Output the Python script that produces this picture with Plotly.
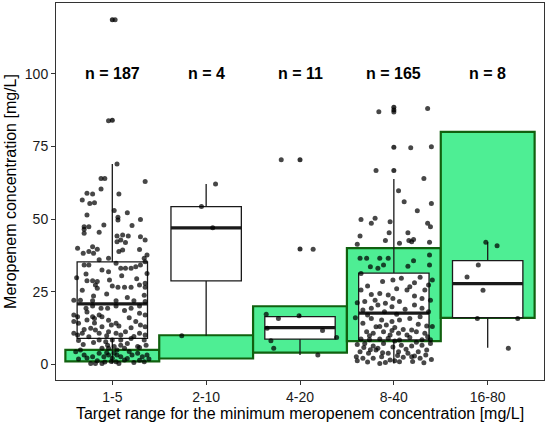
import plotly.graph_objects as go

# target ranges (green bands) and box statistics
categories = ["1-5", "2-10", "4-20", "8-40", "16-80"]
target_low = [1, 2, 4, 8, 16]
target_high = [5, 10, 20, 40, 80]
n_labels = ["n = 187", "n = 4", "n = 11", "n = 165", "n = 8"]

box_q1 = [8.9, 28.7, 8.7, 8.4, 16.1]
box_median = [20.8, 47.0, 12.6, 17.6, 27.8]
box_q3 = [35.3, 54.3, 16.4, 31.4, 35.7]
box_low = [0.3, 9.8, 3.2, 0.3, 5.7]
box_high = [69.0, 62.1, 17.2, 63.8, 42.0]

# boxplot outliers (drawn at the category centre)
outliers = {
    0: [118.6, 84.0],
    2: [70.4, 39.7],
    3: [88.5, 87.6, 74.7, 66.7],
}

# jittered observations: (horizontal jitter, concentration)
g1_points = [
    (0.03, 118.6), (-0.04, 83.9), (0.05, 69.0), (0.35, 62.9), (-0.12, 64.0), (-0.08, 64.0),
    (0.07, 58.6), (-0.27, 58.9), (-0.21, 58.6), (-0.32, 56.6), (-0.24, 55.4), (-0.19, 55.6),
    (-0.12, 60.4), (0.16, 52.2), (-0.27, 51.4), (0.06, 50.6), (0.06, 49.7), (0.30, 49.9),
    (-0.09, 48.0), (-0.30, 47.4), (-0.25, 47.4), (-0.30, 46.5), (-0.30, 45.1),
    (0.05, 44.2), (0.11, 44.5), (0.17, 44.2), (0.09, 42.8), (0.14, 41.9), (0.05, 42.2),
    (0.30, 43.9), (0.35, 42.8), (-0.21, 40.5), (-0.16, 39.6), (-0.25, 38.8), (-0.31, 38.2),
    (-0.20, 38.2), (0.07, 38.8), (0.11, 39.4), (0.37, 37.6), (0.34, 36.5), (-0.04, 36.5),
    (-0.30, 34.2), (-0.25, 34.2), (0.09, 33.1), (0.14, 33.1), (0.20, 33.1), (0.25, 33.6),
    (0.30, 34.2), (0.35, 35.3), (-0.04, 31.9), (0.37, 31.3), (-0.28, 31.1), (-0.27, 28.8),
    (-0.21, 28.8), (-0.16, 28.5), (-0.03, 29.0), (0.00, 27.0), (0.06, 26.5), (0.13, 26.5),
    (0.20, 26.5), (0.29, 27.3), (0.35, 27.9), (-0.18, 27.3), (-0.16, 26.2), (0.35, 26.5),
    (-0.06, 24.2), (-0.41, 22.1), (-0.34, 22.1), (-0.21, 21.9), (0.04, 21.9), (0.23, 21.9),
    (0.35, 21.6), (-0.28, 19.3), (-0.21, 20.1), (-0.12, 19.3), (-0.05, 19.3), (0.04, 20.1),
    (0.20, 19.3), (0.29, 20.1), (-0.41, 17.0), (-0.37, 16.4), (-0.21, 16.4), (-0.14, 17.0),
    (0.29, 17.6), (0.35, 17.0), (-0.41, 14.7), (-0.36, 14.1), (-0.27, 15.3), (-0.19, 15.8),
    (-0.11, 16.4), (0.04, 14.1), (0.07, 13.2), (0.25, 14.7), (0.30, 13.5), (0.35, 12.9),
    (-0.23, 12.4), (-0.18, 11.8), (-0.11, 12.9), (-0.04, 11.2), (0.14, 11.2),
    (-0.41, 10.7), (-0.37, 10.1), (-0.32, 10.7), (-0.14, 10.7), (0.04, 10.7), (0.09, 10.1),
    (0.29, 10.7), (0.35, 10.1), (-0.14, 8.4), (-0.07, 7.8), (0.00, 8.4), (0.09, 8.4),
    (0.20, 8.9), (0.34, 8.4), (-0.05, 6.6), (0.02, 6.1), (0.09, 6.6), (0.27, 6.1), (0.36, 6.6),
    (-0.11, 5.5), (-0.04, 5.5), (0.05, 4.9), (0.13, 5.5), (-0.34, 4.9),
    (-0.39, 4.3), (-0.30, 3.2), (-0.21, 2.6), (-0.14, 3.8), (-0.09, 2.6), (-0.04, 3.2),
    (0.00, 2.1), (0.05, 3.2), (0.09, 2.6), (0.13, 1.5), (0.21, 3.2), (0.27, 3.8),
    (0.32, 2.6), (0.37, 3.2), (-0.23, 0.3), (-0.18, 0.3), (-0.11, 0.3), (0.04, 0.9),
    (0.07, 0.3), (0.34, 0.9), (-0.36, 1.8), (-0.27, 2.2), (-0.16, 1.2), (-0.08, 0.8),
    (-0.01, 1.0), (0.16, 2.0), (0.23, 0.6), (0.29, 1.4), (0.39, 1.8), (-0.06, 4.0),
    (0.02, 3.8), (0.18, 4.4), (-0.31, 6.8), (-0.20, 7.5), (0.16, 7.2), (0.29, 5.8),
    (-0.36, 8.2), (-0.25, 9.5), (-0.06, 9.8), (0.23, 9.6), (-0.30, 12.0), (-0.01, 13.5),
    (0.18, 16.0), (-0.04, 15.2), (0.13, 18.5), (-0.20, 23.5), (0.16, 23.0), (-0.32, 25.5),
    (0.26, 29.5), (-0.11, 32.5), (0.04, 34.8), (-0.37, 40.0), (-0.14, 45.5), (0.21, 47.8),
    (0.02, 53.0), (-0.38, 29.8), (0.34, 23.8), (0.10, 30.5), (-0.14, 36.0), (0.29, 39.5),
    (-0.27, 18.0), (-0.19, 14.2), (0.20, 12.6),
]
g2_points = [(0.10, 62.1), (0.07, 47.0), (-0.26, 9.8), (-0.05, 54.3)]
g3_points = [
    (-0.20, 70.4), (0.14, 39.6), (-0.36, 17.2), (-0.23, 15.8), (-0.01, 16.7), (-0.35, 12.4),
    (0.24, 11.6), (0.39, 9.2), (-0.31, 8.1), (-0.28, 5.5), (0.19, 3.2),
]
g4_points = [
    (-0.16, 87.0), (0.00, 86.9), (0.36, 88.1), (0.18, 74.6), (0.40, 74.9), (-0.19, 66.7),
    (0.32, 64.0), (0.05, 59.8), (0.11, 56.0), (0.40, 55.4), (0.25, 52.9), (-0.35, 49.9),
    (-0.20, 50.3), (-0.24, 48.6), (-0.04, 49.1), (0.36, 48.6), (0.39, 47.4), (-0.36, 44.2),
    (-0.05, 45.3), (0.15, 45.3), (-0.09, 42.6), (0.16, 42.6), (0.21, 43.0), (0.19, 42.2),
    (0.38, 42.0), (-0.39, 41.3), (0.06, 41.7),
    (0.38, 37.6), (-0.36, 36.5), (-0.29, 36.5), (-0.15, 36.5), (-0.06, 36.5), (-0.25, 33.6),
    (-0.17, 33.1), (-0.11, 34.2), (0.15, 33.8), (0.21, 35.7), (0.38, 34.2), (-0.35, 31.3),
    (-0.01, 29.0), (0.08, 29.6), (0.22, 28.1), (0.37, 27.3),
    (-0.35, 25.6), (-0.15, 24.4), (-0.06, 23.9), (0.14, 25.6), (0.17, 26.7), (0.33, 25.6),
    (-0.31, 21.6), (-0.20, 22.1), (-0.01, 22.7), (0.06, 21.6), (0.30, 22.7), (0.39, 22.1),
    (-0.24, 19.3), (-0.17, 20.4), (-0.02, 19.8), (0.22, 20.4), (0.30, 19.3), (-0.39, 21.2),
    (-0.33, 18.7), (-0.10, 18.1), (0.37, 18.1),
    (-0.24, 15.8), (-0.13, 15.3), (-0.02, 14.7), (0.06, 15.3), (0.17, 15.8), (0.28, 16.4),
    (-0.33, 14.1), (-0.19, 12.9), (-0.08, 13.5), (0.01, 12.7), (0.10, 12.0), (0.19, 11.8),
    (0.35, 13.2), (-0.29, 11.2), (-0.22, 10.7), (-0.11, 11.2), (-0.04, 10.1), (0.05, 10.7),
    (0.14, 10.1), (0.24, 11.2), (0.33, 10.7),
    (-0.35, 8.7), (-0.26, 8.5), (-0.15, 8.7), (0.06, 8.4), (0.30, 8.5), (0.39, 8.5),
    (-0.31, 7.2), (-0.22, 6.3), (-0.11, 7.2), (0.08, 6.6), (0.19, 6.3), (0.30, 6.6), (0.39, 7.2),
    (-0.36, 4.3), (-0.27, 3.8), (-0.19, 4.9), (-0.06, 3.8), (0.05, 4.3), (0.15, 3.8),
    (0.26, 4.3), (0.35, 4.9), (-0.40, 2.6), (-0.33, 2.1), (-0.22, 2.1), (-0.13, 2.6),
    (-0.04, 1.5), (0.10, 2.4), (0.19, 2.6), (0.28, 2.1), (-0.15, 0.3), (0.01, 1.2), (0.40, 1.7),
    (-0.28, 27.0), (-0.12, 28.5), (0.28, 30.0), (0.03, 26.0), (-0.24, 24.0), (0.22, 23.5),
    (-0.09, 21.0), (0.12, 19.0), (-0.28, 17.0), (0.03, 17.2), (0.26, 13.8), (-0.15, 13.0),
    (-0.02, 11.6), (0.17, 9.2), (-0.26, 9.8), (0.36, 9.5), (-0.06, 9.0), (-0.32, 5.8),
    (-0.17, 5.5), (-0.01, 6.0), (0.13, 5.2), (0.24, 7.6), (0.34, 3.2), (-0.39, 1.2),
    (-0.28, 0.8), (-0.09, 0.6), (0.06, 0.9), (0.20, 1.0), (0.32, 0.5), (-0.25, 5.0),
    (0.04, 3.0), (0.22, 2.9), (0.01, 8.0), (-0.12, 4.0), (-0.39, 6.8), (0.41, 13.0),
    (0.41, 29.0), (-0.41, 16.0),
]
g5_points = [
    (-0.02, 42.0), (0.10, 40.8), (-0.10, 34.2), (-0.22, 30.1), (-0.05, 25.5), (-0.11, 15.8),
    (0.32, 15.8), (0.22, 5.5),
]
groups = [g1_points, g2_points, g3_points, g4_points, g5_points]

positions = list(range(1, len(categories) + 1))

fig = go.Figure()

# green target-range rectangles, behind everything
for pos, lo, hi in zip(positions, target_low, target_high):
    fig.add_shape(
        type="rect", x0=pos - 0.5, x1=pos + 0.5, y0=lo, y1=hi,
        fillcolor="#4EEE94", line=dict(color="#11600f", width=2.2), layer="below",
    )

fig.add_trace(go.Box(
    x=positions, q1=box_q1, median=box_median, q3=box_q3,
    lowerfence=box_low, upperfence=box_high,
    boxpoints=False, width=0.75, whiskerwidth=0,
    fillcolor="white", line=dict(color="#1a1a1a", width=1.3),
    showlegend=False, hoverinfo="skip",
))

# thicker median bar like ggplot
for pos, med in zip(positions, box_median):
    fig.add_trace(go.Scatter(
        x=[pos - 0.375, pos + 0.375], y=[med, med], mode="lines",
        line=dict(color="#1a1a1a", width=3.2), showlegend=False, hoverinfo="skip",
    ))

# outliers at the centre of each box
for idx, vals in outliers.items():
    fig.add_trace(go.Scatter(
        x=[positions[idx]] * len(vals), y=vals, mode="markers",
        marker=dict(color="black", size=5, opacity=0.8),
        showlegend=False,
    ))

# jittered observations
for pos, pts in zip(positions, groups):
    fig.add_trace(go.Scatter(
        x=[pos + dx for dx, _ in pts], y=[v for _, v in pts], mode="markers",
        marker=dict(color="black", size=5, opacity=0.72),
        showlegend=False,
    ))

for pos, label in zip(positions, n_labels):
    fig.add_annotation(
        x=pos, y=100, text="<b>%s</b>" % label, showarrow=False,
        font=dict(size=16, color="black"),
    )

axis_style = dict(
    showgrid=False, zeroline=False, showline=True, mirror=True,
    linecolor="#333333", linewidth=1, ticks="outside", ticklen=4,
    tickcolor="#333333", tickfont=dict(size=14, color="#1a1a1a"),
)

fig.update_xaxes(
    range=[0.4, 5.6], tickvals=positions, ticktext=categories,
    title=dict(text="Target range for the minimum meropenem concentration [mg/L]",
               font=dict(size=16, color="black"), standoff=4),
    **axis_style,
)
fig.update_yaxes(
    range=[-5.4, 124.4], tickvals=[0, 25, 50, 75, 100],
    title=dict(text="Meropenem concentration [mg/L]",
               font=dict(size=16, color="black"), standoff=4),
    **axis_style,
)

fig.update_layout(
    width=550, height=424,
    margin=dict(l=56, r=6, t=3, b=44),
    paper_bgcolor="white", plot_bgcolor="white",
    font=dict(family="Liberation Sans, Arial, sans-serif"),
    showlegend=False,
)

# drop the default page margin so the figure sits at the window origin
fig.write_html(
    "out.html",
    config={"displayModeBar": False},
    post_script="document.body.style.margin='0';",
)
